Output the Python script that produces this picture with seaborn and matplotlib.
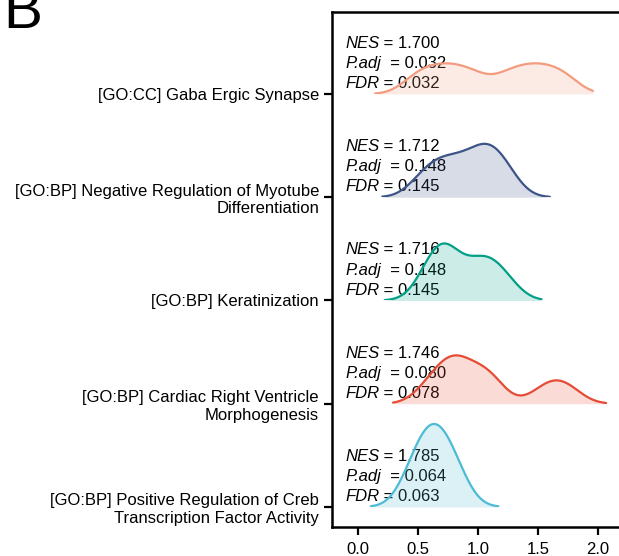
import numpy as np
import matplotlib
matplotlib.use("Agg")
import matplotlib.pyplot as plt
from matplotlib.offsetbox import TextArea, HPacker, AnnotationBbox
import seaborn as sns

# gene sets, top to bottom
pathways = [
    "[GO:CC] Gaba Ergic Synapse",
    "[GO:BP] Negative Regulation of Myotube\nDifferentiation",
    "[GO:BP] Keratinization",
    "[GO:BP] Cardiac Right Ventricle\nMorphogenesis",
    "[GO:BP] Positive Regulation of Creb\nTranscription Factor Activity",
]
colors = ["#F39B7F", "#3C5488", "#00A087", "#E64B35", "#4DBBD5"]
nes = [1.700, 1.712, 1.716, 1.746, 1.785]
padj = [0.032, 0.148, 0.148, 0.080, 0.064]
fdr = [0.032, 0.145, 0.145, 0.078, 0.063]

# core enrichment gene values per set
gaba = [0.47, 0.61, 0.73, 0.85, 0.99, 1.22, 1.36, 1.48, 1.60, 1.74]
myotube = [0.52, 0.62, 0.70, 0.78, 0.86, 0.95, 1.02, 1.07, 1.12, 1.18, 1.26]
kerat = [0.57, 0.63, 0.68, 0.72, 0.76, 0.81, 0.96, 1.02, 1.08, 1.15, 1.25]
cardiac = [0.56, 0.64, 0.70, 0.75, 0.79, 0.82, 0.86, 0.91, 0.99,
           1.06, 1.10, 1.14, 1.52, 1.62, 1.69, 1.78]
creb = [0.44, 0.52, 0.59, 0.63, 0.68, 0.75, 0.83]
values = [gaba, myotube, kerat, cardiac, creb]

# density range per ridge
x_from = [0.14, 0.20, 0.22, 0.29, 0.105]
x_to = [1.96, 1.60, 1.53, 2.07, 1.17]
bandwidth = 0.13

sns.set_style("ticks")
plt.rcParams["font.family"] = ["Liberation Sans", "DejaVu Sans"]
for k in ["text.color", "axes.labelcolor", "xtick.color", "ytick.color", "axes.edgecolor"]:
    plt.rcParams[k] = "black"

fig = plt.figure(figsize=(6.19, 5.56), dpi=100)
ax = fig.add_axes([331.5 / 619, 29 / 556, 308.5 / 619, 515 / 556])
xlim = (-0.224, 2.353)
ax.set_xlim(xlim)
ax.set_ylim(0.806, 5.794)


def stat_label(x, y, name, sep, value):
    parts = [TextArea(name, textprops=dict(fontsize=12, fontstyle="italic")),
             TextArea(sep + "%.3f" % value, textprops=dict(fontsize=12))]
    box = HPacker(children=parts, pad=0, sep=0, align="baseline")
    ab = AnnotationBbox(box, (x, y), xycoords="data", box_alignment=(0, 0.5),
                        frameon=False, pad=0)
    ax.add_artist(ab)


insets = []
for i, (vals, c) in enumerate(zip(values, colors)):
    y0 = 5 - i
    iax = ax.inset_axes([xlim[0], y0, xlim[1] - xlim[0], 1], transform=ax.transData)
    bw = bandwidth / np.std(vals, ddof=1)
    sns.kdeplot(x=vals, ax=iax, bw_method=bw, cut=5, clip=(x_from[i], x_to[i]),
                fill=True, color=c, alpha=0.2, linewidth=0)
    sns.kdeplot(x=vals, ax=iax, bw_method=bw, cut=5, clip=(x_from[i], x_to[i]),
                color=c, linewidth=1.6)
    iax.set_xlim(xlim)
    iax.axis("off")
    insets.append(iax)

    stat_label(-0.111, y0 + 0.49, "NES", " = ", nes[i])
    stat_label(-0.111, y0 + 0.295, "P.adj", "  = ", padj[i])
    stat_label(-0.111, y0 + 0.10, "FDR", " = ", fdr[i])

# common density scale so ridges compare
peak = max(iax.lines[0].get_ydata().max() for iax in insets)
for iax in insets:
    iax.set_ylim(0, peak * 103.25 / 83)

ax.set_yticks([5, 4, 3, 2, 1])
ax.set_yticklabels(pathways, fontsize=12)
ax.set_xticks([0, 0.5, 1, 1.5, 2])
ax.set_xticklabels(["0.0", "0.5", "1.0", "1.5", "2.0"], fontsize=12)
ax.tick_params(axis="both", length=6, width=1.6, color="black", pad=3)
ax.tick_params(axis="x", pad=5)
for s in ax.spines.values():
    s.set_linewidth(1.8)
    s.set_color("black")

fig.text(0.006, 1 - 28 / 556, "B", fontsize=42, va="baseline", ha="left")

fig.savefig("out.png", dpi=100)
